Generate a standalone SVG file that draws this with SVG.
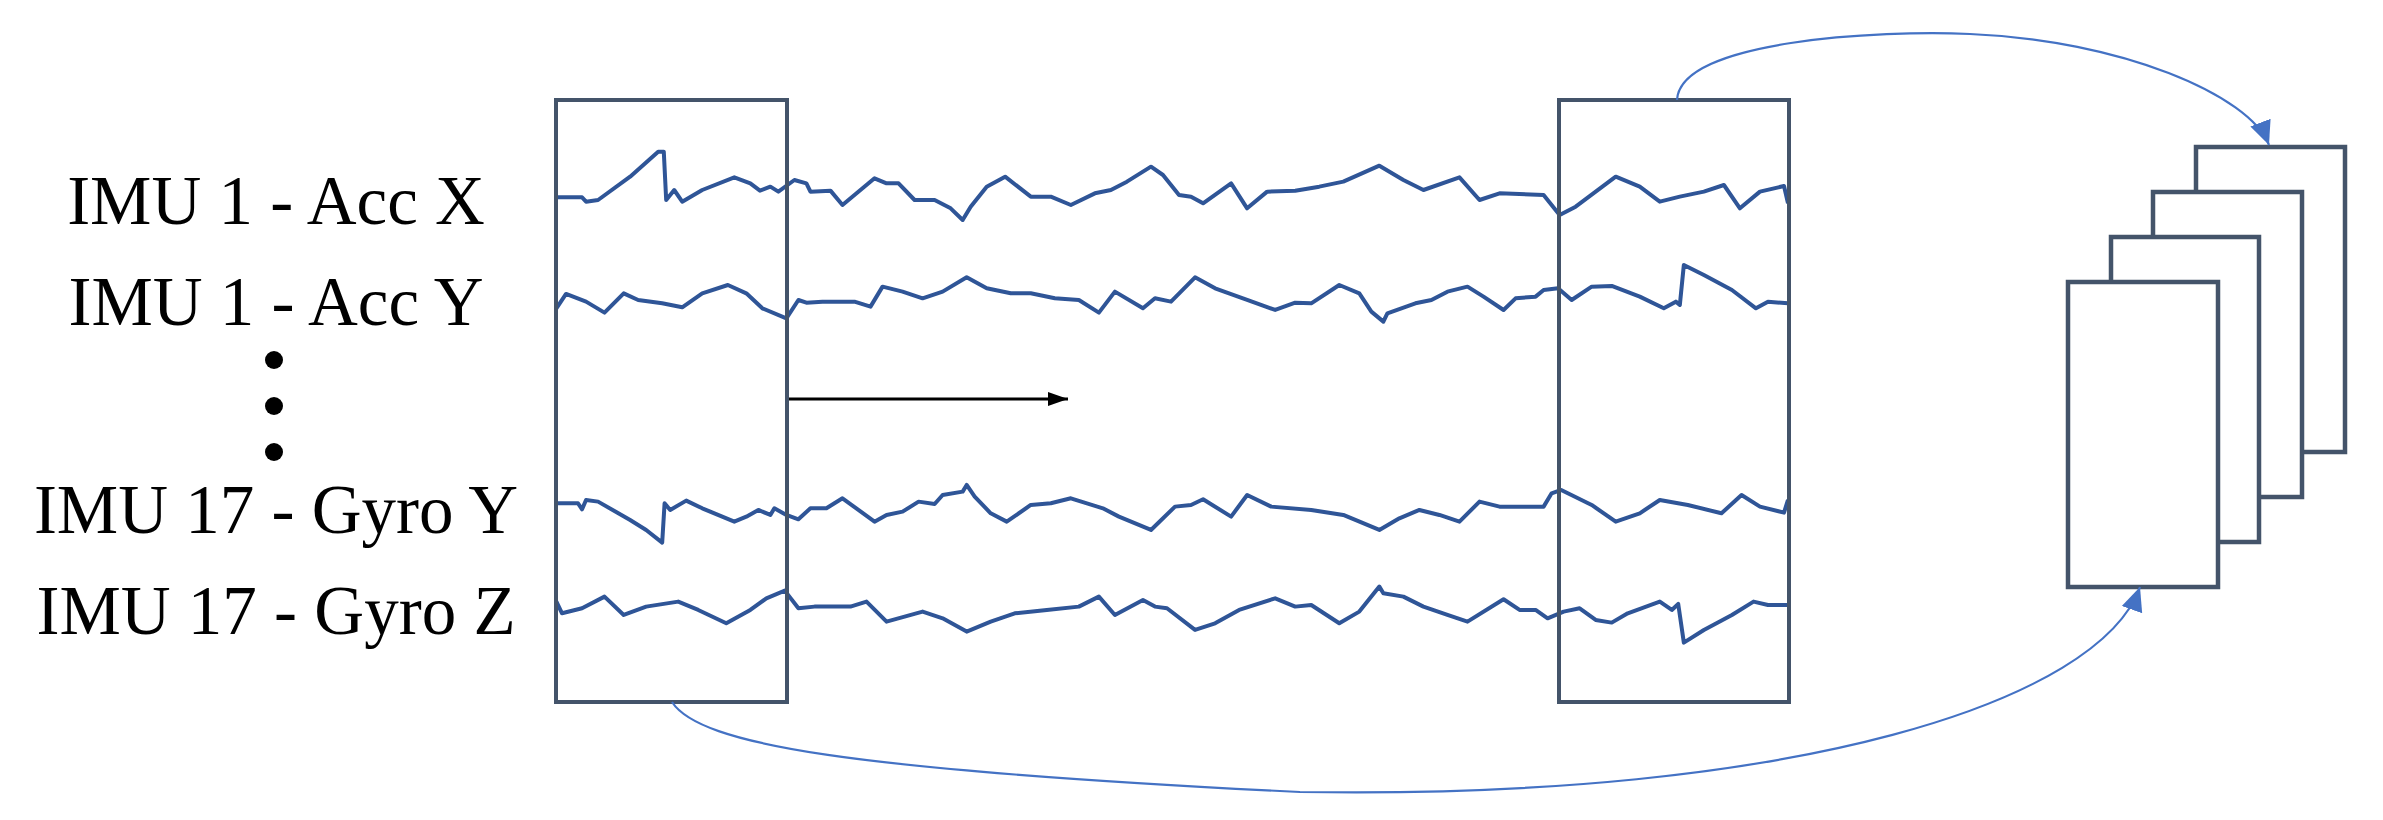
<svg xmlns="http://www.w3.org/2000/svg" width="2383" height="820" viewBox="0 0 2383 820">
<style>
.lbl{font-family:"Liberation Serif",serif;font-size:69px;fill:#000;text-anchor:middle}
.box{fill:none;stroke:#44546A;stroke-width:4}
.card{fill:#fff;stroke:#44546A;stroke-width:4.5}
.sig{fill:none;stroke:#2F5597;stroke-width:4;stroke-linejoin:round;vector-effect:non-scaling-stroke}
.conn{fill:none;stroke:#4472C4;stroke-width:2.2}
</style>
<defs>
<marker id="ab" viewBox="0 0 10 10" refX="10" refY="5" markerWidth="24" markerHeight="24" markerUnits="userSpaceOnUse" orient="auto"><path d="M0,0.5L10,5L0,9.5z" fill="#4472C4"/></marker>
<marker id="ak" viewBox="0 0 10 10" refX="10" refY="5" markerWidth="20" markerHeight="20" markerUnits="userSpaceOnUse" orient="auto"><path d="M0,1.5L10,5L0,8.5z" fill="#000"/></marker>
</defs>
<g id="labels">
<text class="lbl" x="276" y="224">IMU 1 - Acc X</text>
<text class="lbl" x="276" y="325">IMU 1 - Acc Y</text>
<circle cx="274" cy="360" r="9"/><circle cx="274" cy="406" r="9"/><circle cx="274" cy="452" r="9"/>
<text class="lbl" x="276" y="533">IMU 17 - Gyro Y</text>
<text class="lbl" x="276" y="634">IMU 17 - Gyro Z</text>
</g>
<g id="signals" transform="translate(550,120) scale(0.8013,0.3333)">
<polyline class="sig" points="8,232 40,232 45,245 60,240 100,170 135,95 142,95 145,240 155,210 165,245 190,210 230,172 250,190 262,212 275,200 285,215 305,180 320,190 325,215 350,212 365,255 405,175 420,190 435,190 455,240 480,240 500,265 515,300 525,260 545,200 568,170 600,230 625,230 650,255 680,220 700,210 720,185 750,140 765,165 785,225 800,230 815,250 850,190 870,265 895,215 930,212 960,200 990,185 1035,137 1065,180 1090,210 1135,172 1160,240 1185,220 1240,225 1260,285 1280,260 1330,170 1360,200 1385,245 1410,230 1440,215 1465,195 1485,265 1510,215 1540,198 1545,250"/>
<polyline class="sig" points="8,565 20,522 45,545 68,578 92,520 110,540 140,550 165,562 190,520 222,495 245,520 265,565 295,595 310,540 320,548 340,545 380,545 400,560 415,500 440,515 465,535 490,515 520,472 545,505 575,520 600,520 630,535 660,540 685,578 705,515 740,565 755,535 775,545 805,472 830,505 870,540 905,570 930,548 950,550 985,495 1010,520 1025,575 1040,605 1045,580 1080,550 1100,540 1120,515 1145,500 1165,530 1190,570 1205,535 1230,530 1240,510 1258,505 1275,540 1300,500 1325,498 1360,530 1390,565 1405,545 1410,555 1415,435 1440,465 1475,510 1505,565 1520,545 1545,550"/>
<g transform="translate(0,1020)">
<polyline class="sig" points="8,130 35,130 40,148 45,120 60,125 100,180 120,210 140,248 143,130 150,150 170,122 190,145 230,185 245,170 260,150 275,165 280,145 295,165 310,178 325,145 345,145 365,115 405,185 420,165 440,155 460,125 480,132 490,105 515,95 520,75 530,110 550,160 570,185 600,135 625,130 650,115 690,145 710,170 750,210 780,140 800,135 815,118 850,170 870,105 900,140 950,150 990,165 1035,210 1060,175 1085,150 1110,165 1135,185 1160,125 1185,140 1240,140 1250,100 1262,90 1300,135 1330,185 1360,160 1385,120 1420,135 1462,160 1487,105 1510,140 1540,158 1545,120"/>
<polyline class="sig" points="8,425 15,460 40,445 68,410 92,465 120,440 160,425 185,450 220,490 250,450 270,415 293,392 310,445 330,440 375,440 395,425 420,485 465,455 490,475 520,515 550,485 580,460 620,450 660,440 685,410 705,465 740,420 755,440 770,445 805,510 830,490 860,450 905,415 930,440 950,435 985,490 1010,455 1035,380 1040,400 1065,410 1090,440 1120,465 1145,485 1190,418 1210,450 1230,450 1245,475 1265,455 1285,445 1305,480 1325,488 1345,460 1385,425 1400,450 1408,432 1415,548 1440,510 1475,465 1502,425 1520,435 1545,435"/>
</g>
</g>
<g id="window1"><rect class="box" x="556" y="100" width="231" height="602"/></g>
<g id="window2"><rect class="box" x="1559" y="100" width="230" height="602"/></g>
<g id="stack">
<rect class="card" x="2196" y="147" width="149" height="305"/>
<rect class="card" x="2153" y="192" width="149" height="305"/>
<rect class="card" x="2111" y="237" width="148" height="305"/>
<rect class="card" x="2068" y="282" width="150" height="305"/>
</g>
<g id="connectors">
<line x1="789" y1="399" x2="1068" y2="399" stroke="#000" stroke-width="3" marker-end="url(#ak)"/>
<path class="conn" d="M1677,100 C1680,40 1880,30 1970,34 C2120,40 2250,95 2269,145" marker-end="url(#ab)"/>
<path class="conn" d="M672,702 C700,745 850,770 1300,792 C1800,800 2100,700 2140,587" marker-end="url(#ab)"/>
</g>
</svg>
